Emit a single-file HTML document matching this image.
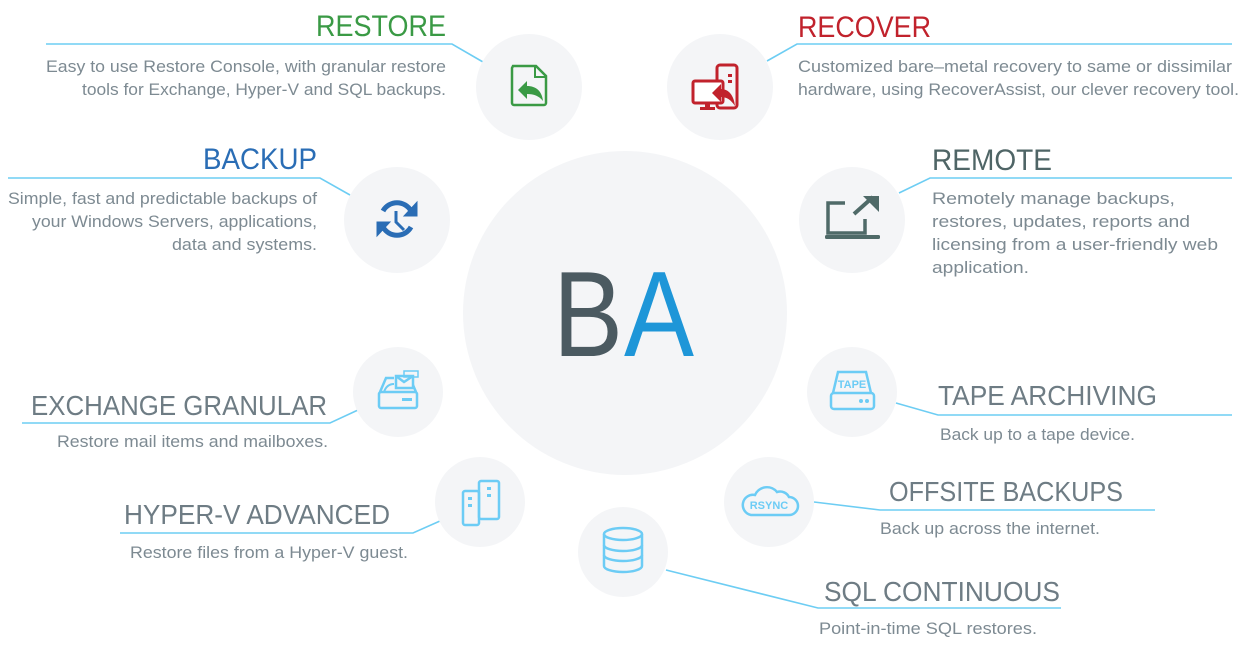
<!DOCTYPE html>
<html><head><meta charset="utf-8"><style>
html,body{margin:0;padding:0;background:#fff;}
svg{display:block;}
text{font-family:"Liberation Sans",sans-serif;}
.t{font-size:30px;fill:#6e7c84;}
.d{font-size:17px;fill:#7d8a92;}
</style></head><body>
<svg width="1240" height="664" viewBox="0 0 1240 664" xmlns="http://www.w3.org/2000/svg">
<!-- connector lines -->
<g stroke="#6dcdf3" stroke-width="1.6" fill="none">
<polyline points="46,44 452,44 483,62"/>
<polyline points="8,178 320,178 350,195"/>
<polyline points="767,61 797,44 1232,44"/>
<polyline points="899,193 930,178 1232,178"/>
<polyline points="22,423 330,423 358,410"/>
<polyline points="120,533 413,533 440,521"/>
<polyline points="896,403 938,415 1232,415"/>
<polyline points="814,502 880,510 1155,510"/>
<polyline points="666,570 818,608 1061,608"/>
</g>
<!-- circles -->
<g fill="#f4f5f7">
<circle cx="625" cy="313" r="162"/>
<circle cx="529" cy="87" r="53"/>
<circle cx="397" cy="220" r="53"/>
<circle cx="720" cy="87" r="53"/>
<circle cx="852" cy="220" r="53"/>
<circle cx="398" cy="392" r="45"/>
<circle cx="480" cy="502" r="45"/>
<circle cx="623" cy="552" r="45"/>
<circle cx="852" cy="392" r="45"/>
<circle cx="769" cy="502" r="45"/>
</g>
<!-- BA -->
<text x="553" y="356" style="font-size:122px;fill:#4b5a61" textLength="70" lengthAdjust="spacingAndGlyphs">B</text>
<text x="624" y="356" style="font-size:122px;fill:#1e96d8" textLength="70" lengthAdjust="spacingAndGlyphs">A</text>

<!-- RESTORE -->
<text class="t" x="316" y="36" style="fill:#3a9a45" textLength="130" lengthAdjust="spacingAndGlyphs">RESTORE</text>
<text class="d" x="46" y="72" textLength="400" lengthAdjust="spacingAndGlyphs">Easy to use Restore Console, with granular restore</text>
<text class="d" x="82" y="95" textLength="364" lengthAdjust="spacingAndGlyphs">tools for Exchange, Hyper-V and SQL backups.</text>
<!-- BACKUP -->
<text class="t" x="203" y="169" style="fill:#2a6db5" textLength="114" lengthAdjust="spacingAndGlyphs">BACKUP</text>
<text class="d" x="8" y="204" textLength="309" lengthAdjust="spacingAndGlyphs">Simple, fast and predictable backups of</text>
<text class="d" x="32" y="227" textLength="285" lengthAdjust="spacingAndGlyphs">your Windows Servers, applications,</text>
<text class="d" x="172" y="250" textLength="145" lengthAdjust="spacingAndGlyphs">data and systems.</text>
<!-- RECOVER -->
<text class="t" x="798" y="37" style="fill:#c1222c" textLength="133" lengthAdjust="spacingAndGlyphs">RECOVER</text>
<text class="d" x="798" y="72" textLength="434" lengthAdjust="spacingAndGlyphs">Customized bare–metal recovery to same or dissimilar</text>
<text class="d" x="798" y="95" textLength="441" lengthAdjust="spacingAndGlyphs">hardware, using RecoverAssist, our clever recovery tool.</text>
<!-- REMOTE -->
<text class="t" x="932" y="170" style="fill:#4f6566" textLength="120" lengthAdjust="spacingAndGlyphs">REMOTE</text>
<text class="d" x="932" y="204" textLength="243" lengthAdjust="spacingAndGlyphs">Remotely manage backups,</text>
<text class="d" x="932" y="227" textLength="258" lengthAdjust="spacingAndGlyphs">restores, updates, reports and</text>
<text class="d" x="932" y="250" textLength="286" lengthAdjust="spacingAndGlyphs">licensing from a user-friendly web</text>
<text class="d" x="932" y="273" textLength="97" lengthAdjust="spacingAndGlyphs">application.</text>
<!-- EXCHANGE -->
<text class="t" x="31" y="415" style="font-size:28px" textLength="296" lengthAdjust="spacingAndGlyphs">EXCHANGE GRANULAR</text>
<text class="d" x="57" y="447" textLength="271" lengthAdjust="spacingAndGlyphs">Restore mail items and mailboxes.</text>
<!-- HYPER-V -->
<text class="t" x="124" y="524" style="font-size:28px" textLength="266" lengthAdjust="spacingAndGlyphs">HYPER-V ADVANCED</text>
<text class="d" x="130" y="558" textLength="278" lengthAdjust="spacingAndGlyphs">Restore files from a Hyper-V guest.</text>
<!-- TAPE -->
<text class="t" x="938" y="405" style="font-size:28px" textLength="219" lengthAdjust="spacingAndGlyphs">TAPE ARCHIVING</text>
<text class="d" x="940" y="440" textLength="195" lengthAdjust="spacingAndGlyphs">Back up to a tape device.</text>
<!-- OFFSITE -->
<text class="t" x="889" y="501" style="font-size:28px" textLength="234" lengthAdjust="spacingAndGlyphs">OFFSITE BACKUPS</text>
<text class="d" x="880" y="534" textLength="220" lengthAdjust="spacingAndGlyphs">Back up across the internet.</text>
<!-- SQL -->
<text class="t" x="824" y="601" style="font-size:28px" textLength="236" lengthAdjust="spacingAndGlyphs">SQL CONTINUOUS</text>
<text class="d" x="819" y="634" textLength="218" lengthAdjust="spacingAndGlyphs">Point-in-time SQL restores.</text>

<!-- ICONS -->
<!-- restore doc -->
<g transform="translate(511,65)">
<path d="M2,1 H25 L35,11 V38 a2,2 0 0 1 -2,2 H3 a2,2 0 0 1 -2,-2 V3 Z" fill="none" stroke="#3a9a45" stroke-width="2.5"/>
<path d="M24,1 V12 H35" fill="none" stroke="#3a9a45" stroke-width="2"/>
<path d="M7,25 L16,16 V21 C25,21 31,26 32,36 C28,31 23,29 16,29 V34 Z" fill="#3a9a45"/>
</g>
<!-- recover -->
<g transform="translate(691,64)">
<rect x="26" y="1" width="20" height="43" rx="3" fill="none" stroke="#c1222c" stroke-width="3"/>
<rect x="2" y="17" width="30" height="22" rx="2" fill="#fff" stroke="#c1222c" stroke-width="3"/>
<rect x="14" y="39" width="5" height="5" fill="#c1222c"/><rect x="9" y="43" width="15" height="3" fill="#c1222c"/>
<rect x="37" y="10" width="4" height="3" fill="#c1222c"/><rect x="37" y="16" width="4" height="3" fill="#c1222c"/>
<path d="M21,29 L30,20 V25 C38,25 43,32 44,42 C40,36 36,33 30,33 V38 Z" fill="#c1222c"/>
</g>
<!-- backup -->
<g transform="translate(397,219)" fill="none" stroke="#2a6db5" stroke-width="5">
<path d="M-14,-8 A16,16 0 0 1 14,-8"/>
<path d="M14,8 A16,16 0 0 1 -14,8"/>
<polyline points="-1,-8 -1,3 7,11" stroke-width="3"/>
<path d="M20,-17 V-3 H7 Z" fill="#2a6db5" stroke-width="1"/>
<path d="M-20,17 V3 H-7 Z" fill="#2a6db5" stroke-width="1"/>
</g>
<!-- remote laptop -->
<g transform="translate(825,195)" fill="none" stroke="#4f6a68">
<path d="M20,8 H3 V38 H40 V24" stroke-width="3.5"/>
<rect x="0" y="40" width="55" height="4" rx="1.5" fill="#4f6a68" stroke="none"/>
<path d="M29,19 L48,2" stroke-width="4"/>
<path d="M38,1 H54 V17 Z" fill="#4f6a68" stroke="none"/>
</g>
<!-- exchange -->
<g transform="translate(378,370)" fill="none" stroke="#6cccf5" stroke-width="2.5">
<path d="M2,22 L8,8 H16 M30,8 H32 L38,22"/>
<rect x="1" y="22" width="38" height="16" rx="2"/>
<rect x="24" y="28" width="10" height="3" fill="#6cccf5" stroke="none"/>
<rect x="18" y="6" width="17" height="12" fill="#f4f5f7"/>
<path d="M18,6 L26,12 L35,6"/>
<rect x="26" y="1" width="14" height="6" stroke-width="1.5"/>
<path d="M6,22 C8,16 12,14 16,14" stroke-width="2"/>
</g>
<!-- hyper-v -->
<g transform="translate(462,479)" fill="none" stroke="#6cccf5" stroke-width="2.5">
<rect x="1" y="12" width="16" height="34" rx="2"/>
<rect x="17" y="2" width="20" height="38" rx="2"/>
<g fill="#6cccf5" stroke="none"><rect x="6" y="18" width="4" height="3"/><rect x="6" y="25" width="4" height="3"/><rect x="25" y="8" width="4" height="3"/><rect x="25" y="15" width="4" height="3"/></g>
</g>
<!-- sql db -->
<g transform="translate(623,550)" fill="none" stroke="#6cccf5" stroke-width="2.5">
<ellipse cx="0" cy="-16" rx="19" ry="6"/>
<path d="M-19,-16 V16 A19,6 0 0 0 19,16 V-16"/>
<path d="M-19,-5 A19,6 0 0 0 19,-5 M-19,5 A19,6 0 0 0 19,5"/>
</g>
<!-- tape -->
<g transform="translate(830,369)" fill="none" stroke="#6cccf5" stroke-width="2.5">
<path d="M3,24 L8,3 H36 L41,24"/>
<rect x="1" y="24" width="43" height="16" rx="3"/>
<text x="22" y="19" text-anchor="middle" style="font-size:11px;font-weight:bold;fill:#6cccf5;stroke:none">TAPE</text>
<circle cx="31" cy="32" r="2" fill="#6cccf5" stroke="none"/><circle cx="37" cy="32" r="2" fill="#6cccf5" stroke="none"/>
</g>
<!-- rsync cloud -->
<g transform="translate(741,483)">
<path d="M10,32 H48 A9,9 0 0 0 48,14 A10,10 0 0 0 36,9 A13,13 0 0 0 14,12 A10,10 0 0 0 10,32 Z" fill="none" stroke="#6cccf5" stroke-width="2.5"/>
<text x="28" y="26" text-anchor="middle" style="font-size:11px;font-weight:bold;fill:#6cccf5">RSYNC</text>
</g>
</svg>
</body></html>
